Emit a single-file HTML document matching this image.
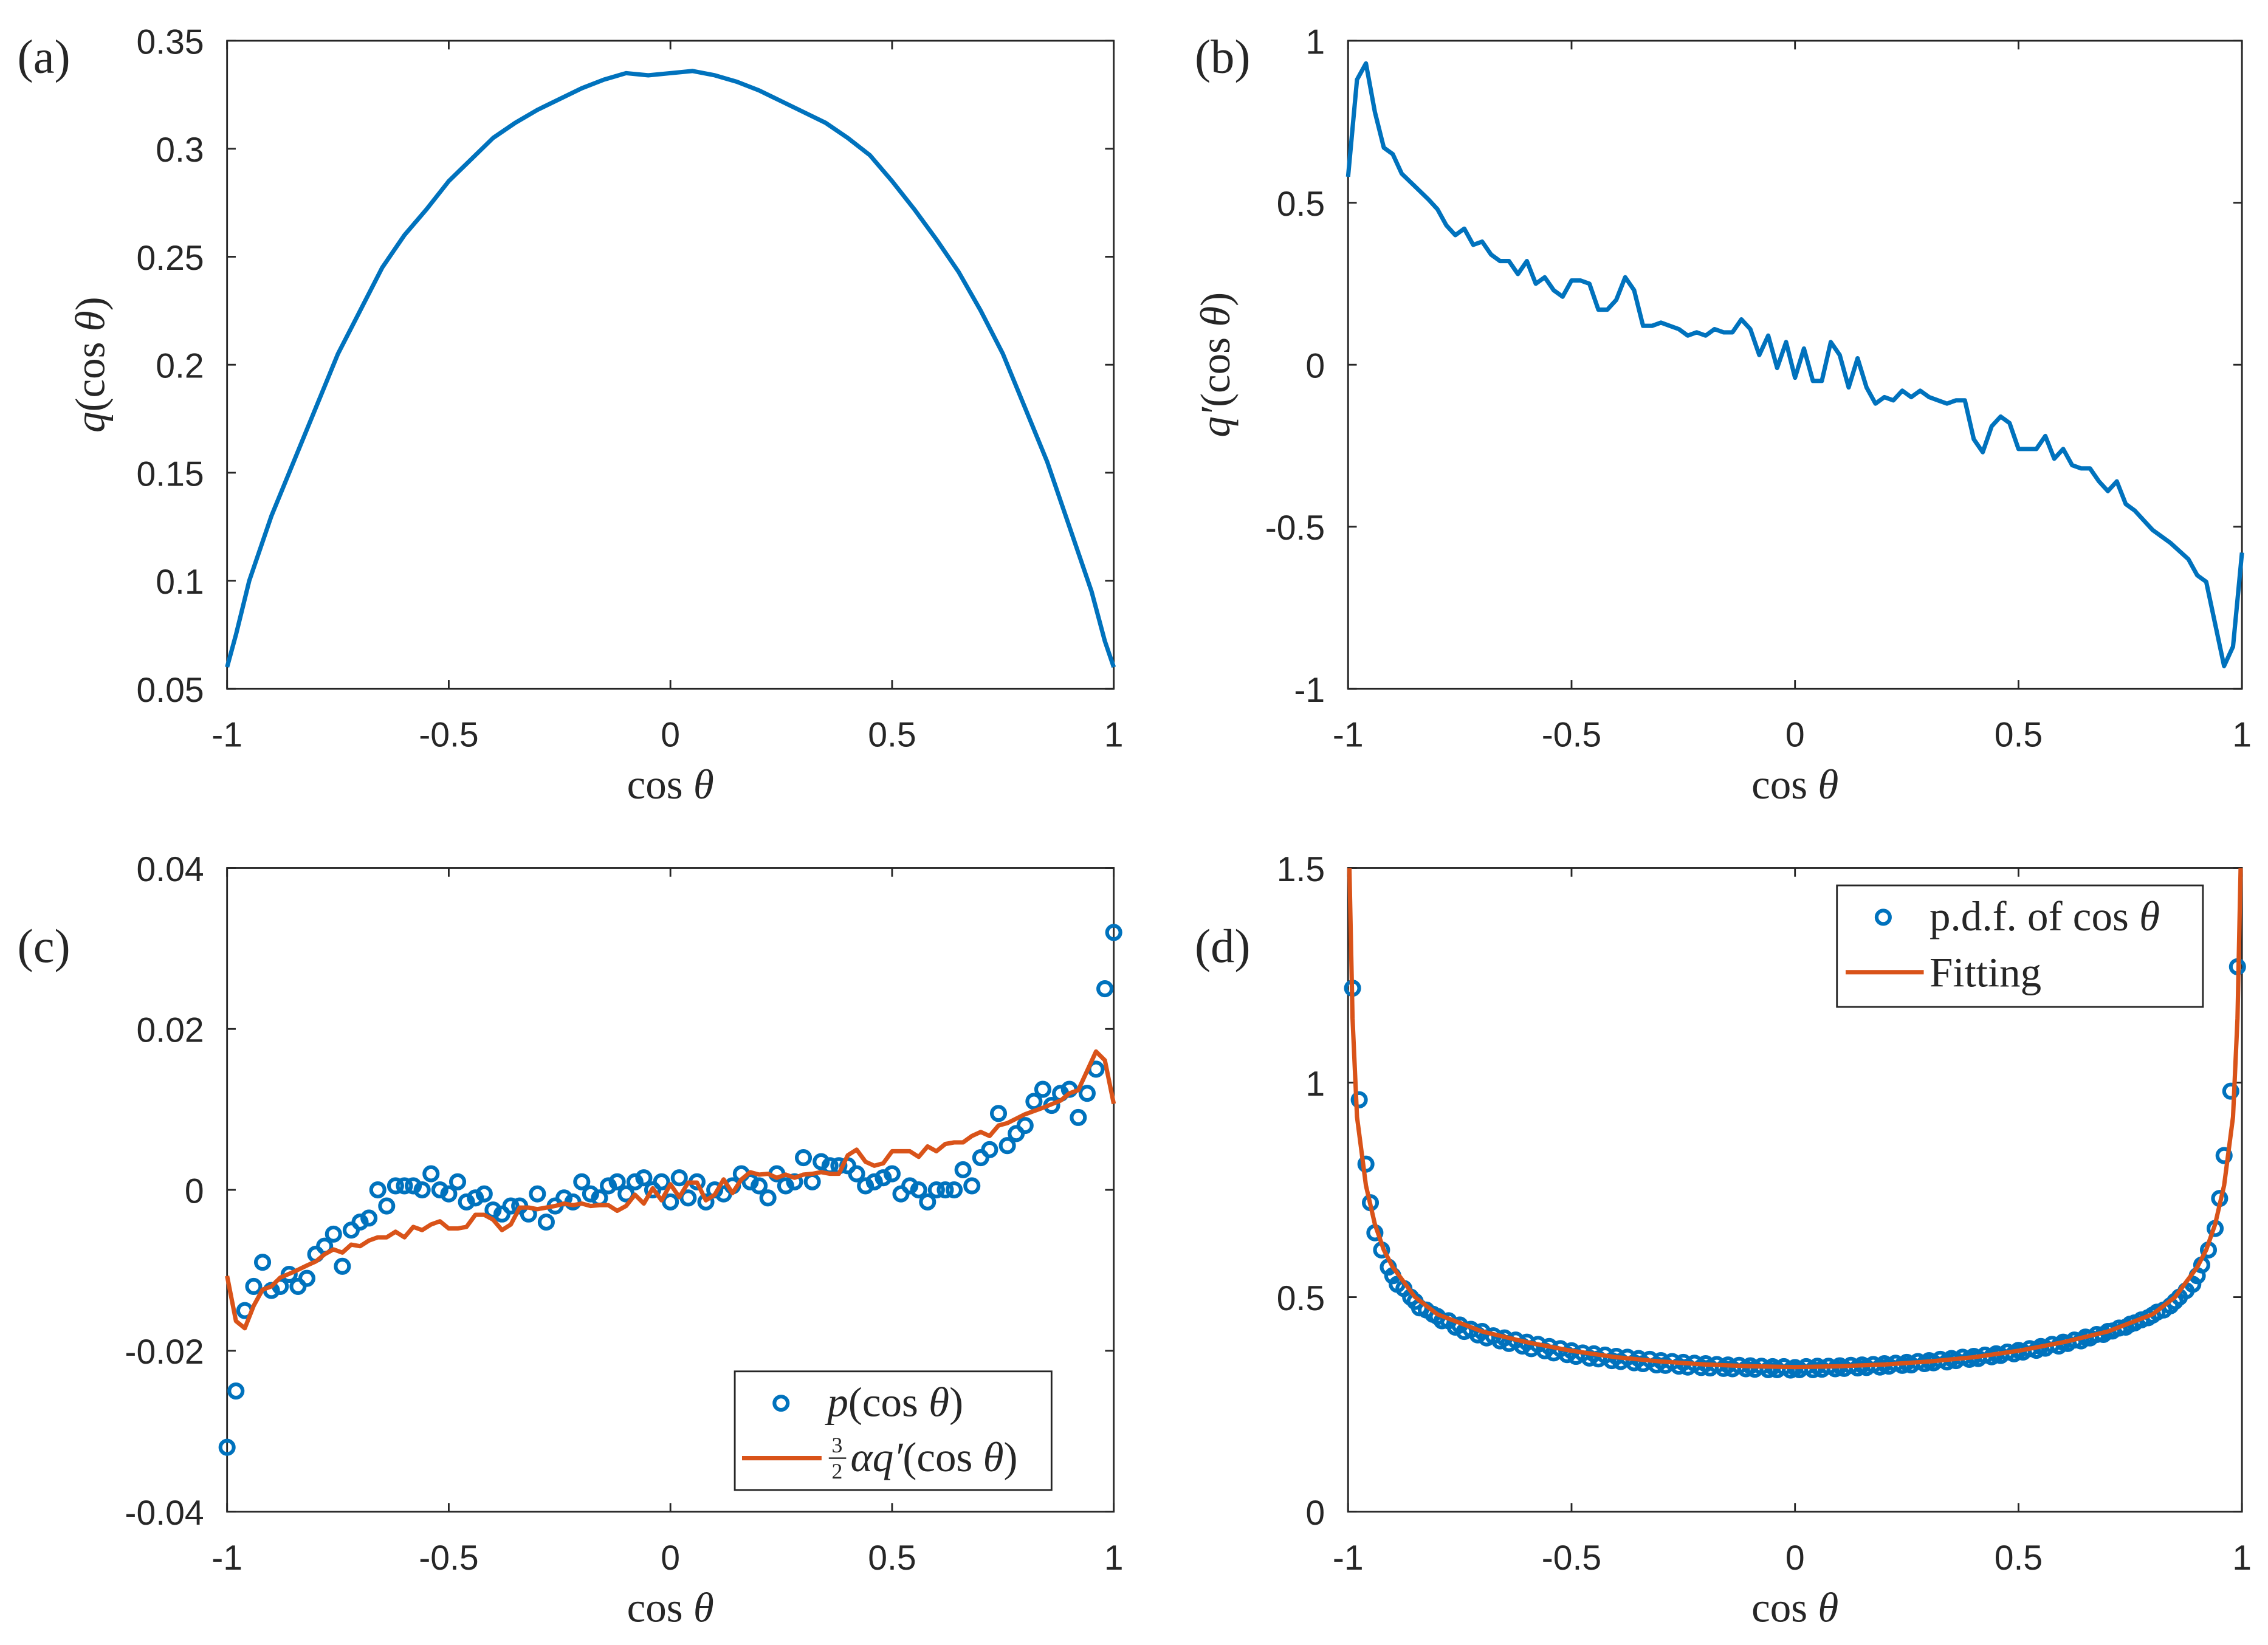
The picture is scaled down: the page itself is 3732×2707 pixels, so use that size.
<!DOCTYPE html>
<html><head><meta charset="utf-8">
<style>
html,body{margin:0;padding:0;background:#fff;}
svg{display:block;}
.tick{font-family:"Liberation Sans",sans-serif;font-size:24px;fill:#262626;}
.lab{font-family:"Liberation Serif",serif;font-size:29px;fill:#262626;}
.plab{font-family:"Liberation Serif",serif;font-size:33px;fill:#262626;}
</style></head>
<body>
<svg id="fig" width="3732" height="2707" viewBox="0 0 1568 1137" xmlns="http://www.w3.org/2000/svg">
<rect width="1568" height="1137" fill="#fff"/>
</svg>
<script>
// ---- data ----
const aX=[-1,-0.98,-0.95,-0.9,-0.85,-0.8,-0.75,-0.7,-0.65,-0.6,-0.55,-0.5,-0.45,-0.4,-0.35,-0.3,-0.25,-0.2,-0.15,-0.1,-0.05,0,0.05,0.1,0.15,0.2,0.25,0.3,0.35,0.4,0.45,0.5,0.55,0.6,0.65,0.7,0.75,0.8,0.85,0.9,0.95,0.98,1];
const aY=[0.06,0.075,0.10,0.13,0.155,0.18,0.205,0.225,0.245,0.26,0.272,0.285,0.295,0.305,0.312,0.318,0.323,0.328,0.332,0.335,0.334,0.335,0.336,0.334,0.331,0.327,0.322,0.317,0.312,0.305,0.297,0.285,0.272,0.258,0.243,0.225,0.205,0.18,0.155,0.125,0.095,0.072,0.06];
const bX=[-1,-0.98,-0.96,-0.94,-0.92,-0.9,-0.88,-0.85,-0.82,-0.8,-0.78,-0.76,-0.74,-0.72,-0.7,-0.68,-0.66,-0.64,-0.62,-0.6,-0.58,-0.56,-0.54,-0.52,-0.5,-0.48,-0.46,-0.44,-0.42,-0.4,-0.38,-0.36,-0.34,-0.32,-0.3,-0.28,-0.26,-0.24,-0.22,-0.2,-0.18,-0.16,-0.14,-0.12,-0.1,-0.08,-0.06,-0.04,-0.02,0,0.02,0.04,0.06,0.08,0.1,0.12,0.14,0.16,0.18,0.2,0.22,0.24,0.26,0.28,0.3,0.32,0.34,0.36,0.38,0.4,0.42,0.44,0.46,0.48,0.5,0.52,0.54,0.56,0.58,0.6,0.62,0.64,0.66,0.68,0.7,0.72,0.74,0.76,0.8,0.84,0.88,0.9,0.92,0.94,0.96,0.98,1];
const bY=[0.58,0.88,0.93,0.78,0.67,0.65,0.59,0.55,0.51,0.48,0.43,0.40,0.42,0.37,0.38,0.34,0.32,0.32,0.28,0.32,0.25,0.27,0.23,0.21,0.26,0.26,0.25,0.17,0.17,0.20,0.27,0.23,0.12,0.12,0.13,0.12,0.11,0.09,0.10,0.09,0.11,0.10,0.10,0.14,0.11,0.03,0.09,-0.01,0.07,-0.04,0.05,-0.05,-0.05,0.07,0.03,-0.07,0.02,-0.07,-0.12,-0.10,-0.11,-0.08,-0.10,-0.08,-0.10,-0.11,-0.12,-0.11,-0.11,-0.23,-0.27,-0.19,-0.16,-0.18,-0.26,-0.26,-0.26,-0.22,-0.29,-0.26,-0.31,-0.32,-0.32,-0.36,-0.39,-0.36,-0.43,-0.45,-0.51,-0.55,-0.60,-0.65,-0.67,-0.80,-0.93,-0.87,-0.58];
const cRedY=[-0.0107,-0.0163,-0.0172,-0.0144,-0.0124,-0.012,-0.0109,-0.0102,-0.0094,-0.0089,-0.008,-0.0074,-0.0078,-0.0068,-0.007,-0.0063,-0.0059,-0.0059,-0.0052,-0.0059,-0.0046,-0.005,-0.0043,-0.0039,-0.0048,-0.0048,-0.0046,-0.0031,-0.0031,-0.0037,-0.005,-0.0043,-0.0022,-0.0022,-0.0024,-0.0022,-0.002,-0.0017,-0.0019,-0.0017,-0.002,-0.0019,-0.0019,-0.0026,-0.002,-0.0006,-0.0017,0.0002,-0.0013,0.0007,-0.0009,0.0009,0.0009,-0.0013,-0.0006,0.0013,-0.0004,0.0013,0.0022,0.0019,0.002,0.0015,0.0019,0.0015,0.0019,0.002,0.0022,0.002,0.002,0.0043,0.005,0.0035,0.003,0.0033,0.0048,0.0048,0.0048,0.0041,0.0054,0.0048,0.0057,0.0059,0.0059,0.0067,0.0072,0.0067,0.008,0.0083,0.0094,0.0102,0.0111,0.012,0.0124,0.0148,0.0172,0.0161,0.0107];
const cX=[-1,-0.98,-0.96,-0.94,-0.92,-0.9,-0.88,-0.86,-0.84,-0.82,-0.8,-0.78,-0.76,-0.74,-0.72,-0.7,-0.68,-0.66,-0.64,-0.62,-0.6,-0.58,-0.56,-0.54,-0.52,-0.5,-0.48,-0.46,-0.44,-0.42,-0.4,-0.38,-0.36,-0.34,-0.32,-0.3,-0.28,-0.26,-0.24,-0.22,-0.2,-0.18,-0.16,-0.14,-0.12,-0.1,-0.08,-0.06,-0.04,-0.02,0,0.02,0.04,0.06,0.08,0.1,0.12,0.14,0.16,0.18,0.2,0.22,0.24,0.26,0.28,0.3,0.32,0.34,0.36,0.38,0.4,0.42,0.44,0.46,0.48,0.5,0.52,0.54,0.56,0.58,0.6,0.62,0.64,0.66,0.68,0.7,0.72,0.74,0.76,0.78,0.8,0.82,0.84,0.86,0.88,0.9,0.92,0.94,0.96,0.98,1];
const cY=[-0.032,-0.025,-0.015,-0.012,-0.009,-0.0125,-0.012,-0.0105,-0.012,-0.011,-0.008,-0.007,-0.0055,-0.0095,-0.005,-0.004,-0.0035,0,-0.002,0.0005,0.0005,0.0005,0,0.002,0,-0.0005,0.001,-0.0015,-0.001,-0.0005,-0.0025,-0.003,-0.002,-0.002,-0.003,-0.0005,-0.004,-0.002,-0.001,-0.0015,0.001,-0.0005,-0.001,0.0005,0.001,-0.0005,0.001,0.0015,0,0.001,-0.0015,0.0015,-0.001,0.001,-0.0015,0,-0.0005,0.0005,0.002,0.001,0.0005,-0.001,0.002,0.0005,0.001,0.004,0.001,0.0035,0.003,0.003,0.003,0.002,0.0005,0.001,0.0015,0.002,-0.0005,0.0005,0,-0.0015,0,0,0,0.0025,0.0005,0.004,0.005,0.0095,0.0055,0.007,0.008,0.011,0.0125,0.0105,0.012,0.0125,0.009,0.012,0.015,0.025,0.032];
const dX=[-0.99,-0.975,-0.96,-0.95,-0.94,-0.925,-0.91,-0.9,-0.875,-0.85,-0.825,-0.8,-0.775,-0.75,-0.725,-0.7,-0.675,-0.65,-0.625,-0.6,-0.575,-0.55,-0.525,-0.5,-0.475,-0.45,-0.425,-0.4,-0.375,-0.35,-0.325,-0.3,-0.275,-0.25,-0.225,-0.2,-0.175,-0.15,-0.125,-0.1,-0.075,-0.05,-0.025,0,0.025,0.05,0.075,0.1,0.125,0.15,0.175,0.2,0.225,0.25,0.275,0.3,0.325,0.35,0.375,0.4,0.425,0.45,0.475,0.5,0.525,0.55,0.575,0.6,0.625,0.65,0.675,0.7,0.725,0.75,0.775,0.8,0.825,0.85,0.875,0.9,0.91,0.925,0.94,0.95,0.96,0.975,0.99];
const dY=[1.22,0.96,0.81,0.72,0.65,0.61,0.57,0.55,0.52,0.49,0.47,0.455,0.445,0.435,0.425,0.42,0.41,0.405,0.40,0.395,0.39,0.385,0.38,0.375,0.37,0.368,0.365,0.362,0.36,0.357,0.355,0.352,0.35,0.348,0.346,0.345,0.343,0.342,0.341,0.34,0.339,0.338,0.338,0.336,0.338,0.339,0.339,0.34,0.341,0.342,0.343,0.345,0.346,0.348,0.35,0.352,0.355,0.357,0.36,0.362,0.365,0.368,0.372,0.376,0.38,0.385,0.39,0.395,0.40,0.407,0.413,0.42,0.428,0.437,0.447,0.458,0.47,0.49,0.515,0.55,0.575,0.61,0.66,0.73,0.83,0.98,1.27];
const dX2=[-0.89,-0.86,-0.84,-0.81,-0.79,-0.76,-0.74,-0.71,-0.69,-0.66,-0.64,-0.61,-0.59,-0.56,-0.54,-0.51,-0.49,-0.46,-0.44,-0.41,-0.39,-0.36,-0.34,-0.31,-0.29,-0.26,-0.24,-0.21,-0.19,-0.16,-0.14,-0.11,-0.09,-0.06,-0.04,-0.01,0.01,0.04,0.06,0.09,0.11,0.14,0.16,0.19,0.21,0.24,0.26,0.29,0.31,0.34,0.36,0.39,0.41,0.44,0.46,0.49,0.51,0.54,0.56,0.59,0.61,0.64,0.66,0.69,0.71,0.74,0.76,0.79,0.81,0.84,0.86,0.89];
const dY2=[0.53,0.5,0.475,0.46,0.445,0.43,0.42,0.412,0.405,0.398,0.392,0.386,0.38,0.375,0.37,0.366,0.362,0.358,0.356,0.352,0.35,0.347,0.345,0.342,0.341,0.339,0.337,0.336,0.335,0.334,0.333,0.333,0.332,0.331,0.331,0.33,0.331,0.331,0.332,0.333,0.334,0.335,0.336,0.337,0.339,0.341,0.342,0.345,0.347,0.349,0.352,0.355,0.357,0.361,0.364,0.368,0.372,0.376,0.381,0.386,0.392,0.398,0.405,0.413,0.421,0.43,0.44,0.452,0.465,0.48,0.5,0.53];
const dFitX=[-0.997,-0.99,-0.98,-0.96,-0.94,-0.92,-0.9,-0.85,-0.8,-0.7,-0.6,-0.5,-0.4,-0.3,-0.2,-0.1,0,0.1,0.2,0.3,0.4,0.5,0.6,0.7,0.8,0.85,0.9,0.92,0.94,0.96,0.98,0.99,0.997];
const dFitY=[1.5,1.15,0.92,0.76,0.67,0.61,0.57,0.50,0.46,0.42,0.395,0.375,0.36,0.35,0.343,0.339,0.337,0.339,0.343,0.35,0.36,0.375,0.395,0.42,0.46,0.50,0.57,0.61,0.67,0.76,0.92,1.15,1.5];
const xTicks=[-1,-0.5,0,0.5,1];
const xTickLabels=["-1","-0.5","0","0.5","1"];
const aTicks=[0.05,0.1,0.15,0.2,0.25,0.3,0.35];
const aTickLabels=["0.05","0.1","0.15","0.2","0.25","0.3","0.35"];
const bTicks=[-1,-0.5,0,0.5,1];
const bTickLabels=["-1","-0.5","0","0.5","1"];
const cTicks=[-0.04,-0.02,0,0.02,0.04];
const cTickLabels=["-0.04","-0.02","0","0.02","0.04"];
const dTicks=[0,0.5,1,1.5];
const dTickLabels=["0","0.5","1","1.5"];

const NS="http://www.w3.org/2000/svg";
const svg=document.getElementById('fig');
const BLUE="#0072BD", RED="#D95319";
function el(tag,attrs,parent){const e=document.createElementNS(NS,tag);for(const k in attrs)e.setAttribute(k,attrs[k]);(parent||svg).appendChild(e);return e;}

function panel(name,L,R,T,B,xmin,xmax,ymin,ymax,yt,ytl){
  const g=el('g',{});
  
  
  const sx=v=>L+(v-xmin)/(xmax-xmin)*(R-L);
  const sy=v=>B-(v-ymin)/(ymax-ymin)*(B-T);
  const box=el('rect',{x:L,y:T,width:R-L,height:B-T,fill:'none',stroke:'#262626','stroke-width':1.2},g);
  
  
  xTicks.forEach((v,i)=>{
    const x=sx(v);
    el('line',{x1:x,y1:B,x2:x,y2:B-6,stroke:'#262626','stroke-width':1.2},g);
    el('line',{x1:x,y1:T,x2:x,y2:T+6,stroke:'#262626','stroke-width':1.2},g);
    const t=el('text',{x:x,y:B+40,'text-anchor':'middle',class:'tick'},g);
    t.textContent=xTickLabels[i];
    
    
  });
  yt.forEach((v,i)=>{
    const y=sy(v);
    el('line',{x1:L,y1:y,x2:L+6,y2:y,stroke:'#262626','stroke-width':1.2},g);
    el('line',{x1:R,y1:y,x2:R-6,y2:y,stroke:'#262626','stroke-width':1.2},g);
    const t=el('text',{x:L-16,y:y+9,'text-anchor':'end',class:'tick'},g);
    t.textContent=ytl[i];
    
    
  });
  const xl=el('text',{x:(L+R)/2,y:B+76,'text-anchor':'middle',class:'lab'},g);
  xl.innerHTML='cos <tspan font-style="italic">θ</tspan>';
  
  
  return {g,sx,sy};
}
function line(p,xs,ys,color,name){
  const d=xs.map((x,i)=>(i?'L':'M')+p.sx(x).toFixed(2)+' '+p.sy(ys[i]).toFixed(2)).join(' ');
  const e=el('path',{d:d,fill:'none',stroke:color,'stroke-width':3,'stroke-linejoin':'round'},p.g);
  
  
}
function dots(p,xs,ys,name){
  xs.forEach((x,i)=>{
    const c=el('circle',{cx:p.sx(x),cy:p.sy(ys[i]),r:4.6,fill:'none',stroke:BLUE,'stroke-width':2.6},p.g);
    
    
  });
}
function txt(x,y,html,cls,name,extra){
  const t=el('text',Object.assign({x:x,y:y,class:cls},extra||{}));
  t.innerHTML=html;
  
  
  return t;
}

// panel a
const pa=panel('panel-a',157,770,28,476,-1,1,0.05,0.35,aTicks,aTickLabels);
line(pa,aX,aY,BLUE,'q-curve');
txt(12,50,'(a)','plab','panel-label-a');
txt(72,252,'<tspan font-style="italic">q</tspan>(cos <tspan font-style="italic">θ</tspan>)','lab','y-axis-title-a',{transform:'rotate(-90 72 252)','text-anchor':'middle'});

// panel b
const pb=panel('panel-b',932,1550,28,476,-1,1,-1,1,bTicks,bTickLabels);
line(pb,bX,bY,BLUE,'q-prime-curve');
txt(826,50,'(b)','plab','panel-label-b');
txt(850,252,'<tspan font-style="italic">q′</tspan>(cos <tspan font-style="italic">θ</tspan>)','lab','y-axis-title-b',{transform:'rotate(-90 850 252)','text-anchor':'middle'});

// panel c
const pc=panel('panel-c',157,770,600,1045,-1,1,-0.04,0.04,cTicks,cTickLabels);
dots(pc,cX,cY,'p-point');
line(pc,bX,cRedY,RED,'alpha-q-prime-line');
txt(12,665,'(c)','plab','panel-label-c');
const lc=el('g',{});


el('rect',{x:508,y:948,width:219,height:82,fill:'#fff',stroke:'#262626','stroke-width':1.2},lc);
el('circle',{cx:540,cy:970,r:4.6,fill:'none',stroke:BLUE,'stroke-width':2.6},lc);
el('line',{x1:513,y1:1008,x2:568,y2:1008,stroke:RED,'stroke-width':3},lc);
txt(572,979,'<tspan font-style="italic">p</tspan>(cos <tspan font-style="italic">θ</tspan>)','lab','legend-entry-p');
txt(575,1004,'3','lab','legend-frac-num',{style:'font-size:15px'});
el('line',{x1:573,y1:1008,x2:585,y2:1008,stroke:'#262626','stroke-width':1});
txt(575,1022,'2','lab','legend-frac-den',{style:'font-size:15px'});
txt(588,1017,'<tspan font-style="italic">αq′</tspan>(cos <tspan font-style="italic">θ</tspan>)','lab','legend-entry-alpha-q');

// panel d
const pd=panel('panel-d',932,1550,600,1045,-1,1,0,1.5,dTicks,dTickLabels);
dots(pd,dX,dY,'pdf-point');
dots(pd,dX2,dY2,'pdf-point');
line(pd,dFitX,dFitY,RED,'fitting-line');
txt(826,665,'(d)','plab','panel-label-d');
const ld=el('g',{});


el('rect',{x:1270,y:612,width:253,height:84,fill:'#fff',stroke:'#262626','stroke-width':1.2},ld);
el('circle',{cx:1302,cy:634,r:4.6,fill:'none',stroke:BLUE,'stroke-width':2.6},ld);
el('line',{x1:1276,y1:672,x2:1330,y2:672,stroke:RED,'stroke-width':3},ld);
txt(1334,643,'p.d.f.  of cos <tspan font-style="italic">θ</tspan>','lab','legend-entry-pdf');
txt(1334,682,'Fitting','lab','legend-entry-fitting');
</script>
</body></html>
